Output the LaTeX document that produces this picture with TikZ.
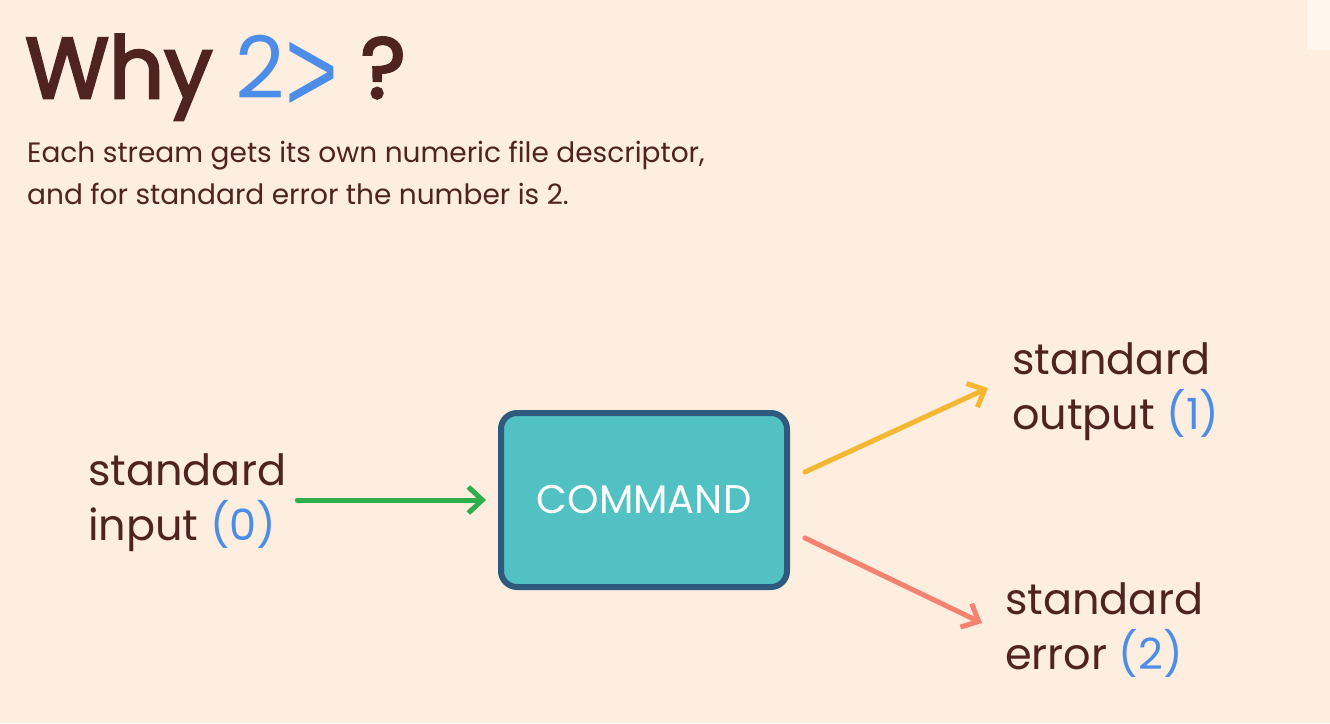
\documentclass[tikz,border=0pt]{standalone}
\usepackage{fontspec}
\setmainfont{Poppins}
\newfontfamily\titlefont[FakeBold=3]{Poppins}
\newfontfamily\chevfont{Liberation Sans}
\usepackage{xcolor}
\usetikzlibrary{arrows.meta}

\definecolor{bgcream}{HTML}{FDEEDF}
\definecolor{cornerwhite}{HTML}{FFF6EE}
\definecolor{txtbrown}{HTML}{4E2320}
\definecolor{numblue}{HTML}{4C8DEA}
\definecolor{boxfill}{HTML}{52C1C3}
\definecolor{boxline}{HTML}{2F5A7F}
\definecolor{inpgreen}{HTML}{2DB04B}
\definecolor{outyellow}{HTML}{F5B731}
\definecolor{errsalmon}{HTML}{F4826E}

\newcommand{\fd}[1]{\textcolor{numblue}{(#1)}}

\begin{document}
\begin{tikzpicture}
	[x=1pt, y=-1pt,
	 label/.style={text=txtbrown, inner sep=0pt, align=left, font=\fontsize{43}{55}\selectfont},
	 cmdbox/.style={draw=boxline, line width=6pt, fill=boxfill, rounded corners=16pt,
		minimum width=286pt, minimum height=174pt, text=white, font=\fontsize{40}{48}\selectfont},
	 stream/.style={line width=5pt, line cap=round, -{Straight Barb[length=14pt, width=26pt, line width=5pt]}}]

	% background
	\fill[bgcream] (0,0) rectangle (1330,723);
	\fill[cornerwhite] (1307,0) rectangle (1330,50);
	\useasboundingbox (0,0) rectangle (1330,723);

	% title
	\node[anchor=base west, inner sep=0pt, text=txtbrown, font=\titlefont\fontsize{86}{96}\selectfont] (title) at (25,98)
		{Why \textcolor{numblue}{\rmfamily 2{\chevfont\raisebox{-14pt}{\scalebox{1.05}[1.4]{>}}}} ?};
	\node[anchor=north west, inner sep=0pt, text=txtbrown, align=left, font=\fontsize{28}{36}\selectfont] (sub) at (27,141)
		{Each stream gets its own numeric file descriptor,\\[6pt]and for standard error the number is 2.};

	% command box
	\node[cmdbox] (cmd) at (644,500) {COMMAND};

	% streams
	\node[label, anchor=west] (in) at (88,503) {standard\\input \fd{0}};
	\node[label, anchor=west] (out) at (1012,392) {standard\\output \fd{1}};
	\node[label, anchor=west] (err) at (1005,630) {standard\\error \fd{2}};

	\draw[stream, inpgreen] ([xshift=11pt]in.east |- cmd.west) -- ([xshift=-12pt]cmd.west);
	\draw[stream, outyellow] ([shift={(15,-28)}]cmd.east) -- ([shift={(-24,-4)}]out.west);
	\draw[stream, errsalmon] ([shift={(15,38)}]cmd.east) -- ([shift={(-23,-7)}]err.west);

\end{tikzpicture}
\end{document}
